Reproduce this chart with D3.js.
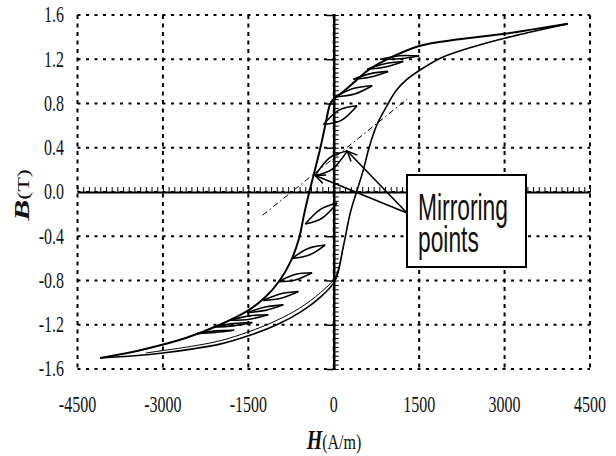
<!DOCTYPE html>
<html>
<head>
<meta charset="utf-8">
<script src="https://cdn.jsdelivr.net/npm/d3@7"></script>
<style>
body{margin:0;background:#fff;}
svg{display:block;}
</style>
</head>
<body>
<svg id="chart"></svg>
<script>
// values
var hTicks = [-4500, -3000, -1500, 0, 1500, 3000, 4500];
var hTickLabels = ["-4500", "-3000", "-1500", "0", "1500", "3000", "4500"];
var bTicks = [-1.6, -1.2, -0.8, -0.4, 0, 0.4, 0.8, 1.2, 1.6];
var bTickLabels = ["-1.6", "-1.2", "-0.8", "-0.4", "0.0", "0.4", "0.8", "1.2", "1.6"];

// major loop, descending branch (H in A/m, B in T)
var descH = [4110, 3500, 3000, 2200, 1500, 900, 600, 375, 150, 0, -60, -150, -235, -330, -430, -520, -610, -750, -950, -1200, -1500, -2000, -2600, -3400, -4100];
var descB = [1.52, 1.47, 1.43, 1.38, 1.32, 1.19, 1.10, 1.00, 0.90, 0.84, 0.80, 0.60, 0.40, 0.20, 0.00, -0.20, -0.42, -0.62, -0.80, -0.95, -1.07, -1.20, -1.32, -1.43, -1.50];
// major loop, ascending branch
var ascH = [-4100, -3500, -3000, -2500, -2000, -1500, -1000, -600, -235, 25, 165, 290, 400, 520, 620, 760, 935, 1100, 1290, 1600, 1920, 2500, 3000, 3500, 4110];
var ascB = [-1.50, -1.48, -1.455, -1.42, -1.375, -1.30, -1.20, -1.09, -0.95, -0.80, -0.50, -0.19, 0.00, 0.20, 0.40, 0.61, 0.78, 0.92, 1.02, 1.13, 1.22, 1.32, 1.39, 1.45, 1.52];
// second rising curve just above the ascending branch
var riseH = [-3300, -2500, -2000, -1500, -1000, -600, -235, 25, 165];
var riseB = [-1.455, -1.395, -1.345, -1.265, -1.16, -1.05, -0.91, -0.77, -0.50];

// minor loops: [start, upper middle, end, lower middle]
var minorLoops = [
  [[815, 1.20], [1158, 1.232], [1500, 1.23], [1158, 1.205]],
  [[585, 1.11], [900, 1.16], [1220, 1.18], [905, 1.13]],
  [[345, 1.02], [650, 1.07], [955, 1.09], [650, 1.04]],
  [[30, 0.86], [340, 0.935], [675, 0.96], [365, 0.885]],
  [[-180, 0.61], [90, 0.74], [410, 0.78], [140, 0.65]],
  [[-325, 0.15], [-70, 0.31], [237, 0.37], [-20, 0.21]],
  [[-500, -0.29], [-240, -0.16], [60, -0.10], [-200, -0.235]],
  [[-730, -0.60], [-450, -0.51], [-150, -0.48], [-430, -0.57]],
  [[-975, -0.81], [-680, -0.745], [-380, -0.73], [-675, -0.795]],
  [[-1235, -0.98], [-930, -0.92], [-620, -0.90], [-925, -0.96]],
  [[-1520, -1.09], [-1205, -1.04], [-885, -1.02], [-1200, -1.07]],
  [[-1810, -1.16], [-1480, -1.12], [-1150, -1.11], [-1480, -1.15]],
  [[-2110, -1.22], [-1770, -1.19], [-1430, -1.18], [-1770, -1.21]],
  [[-2400, -1.28], [-2080, -1.255], [-1750, -1.25], [-2080, -1.27]]
];

// mirroring points and the dash-dot guide through them
var mirrorH = [-325, 237];
var mirrorB = [0.15, 0.37];
var guideH = [-1250, 1290];
var guideB = [-0.21, 0.84];

var draw = function(){
    var width = 616, height = 456;
    var svg = d3.select('#chart')
    .attr('width', width)
    .attr('height', height);

    var x = d3.scaleLinear().domain([-4500, 4500]).range([77.5, 590]);
    var y = d3.scaleLinear().domain([-1.6, 1.6]).range([369, 15]);

    // dotted grid (also forms the frame)
    svg.append('g')
    .selectAll('line')
    .data(hTicks)
    .join('line')
    .attr('x1', d => x(d)).attr('x2', d => x(d))
    .attr('y1', y(1.6)).attr('y2', y(-1.6))
    .attr('stroke', '#000')
    .attr('stroke-width', 2)
    .attr('stroke-dasharray', '4,4.5');

    svg.append('g')
    .selectAll('line')
    .data(bTicks)
    .join('line')
    .attr('x1', x(-4500)).attr('x2', x(4500))
    .attr('y1', d => y(d)).attr('y2', d => y(d))
    .attr('stroke', '#000')
    .attr('stroke-width', 2)
    .attr('stroke-dasharray', '3,5.5');

    // axes through the origin with minor ticks
    var xAxis = svg.append('g')
    .attr('transform', 'translate(0,' + y(0) + ')')
    .call(d3.axisTop(x).tickValues(d3.range(-4500, 4501, 100)).tickSize(5).tickSizeOuter(0).tickFormat(''));
    xAxis.select('.domain').attr('stroke-width', 2);
    xAxis.selectAll('.tick line').attr('stroke-width', 1);

    var yAxis = svg.append('g')
    .attr('transform', 'translate(' + x(0) + ',0)')
    .call(d3.axisRight(y).tickValues(d3.range(-40, 41).map(i => i * 0.04)).tickSize(5).tickSizeOuter(0).tickFormat(''));
    yAxis.select('.domain').attr('stroke-width', 2.5);
    yAxis.selectAll('.tick line').attr('stroke-width', 1);

    var yMajor = svg.append('g')
    .attr('transform', 'translate(' + x(0) + ',0)')
    .call(d3.axisLeft(y).tickValues(bTicks).tickSize(7).tickFormat(''));
    yMajor.select('.domain').remove();
    yMajor.selectAll('.tick line').attr('stroke-width', 1.5);

    // tick labels (condensed serif look, stretched vertically)
    svg.append('g')
    .selectAll('text')
    .data(bTicks)
    .join('text')
    .attr('transform', d => 'translate(64,' + y(d) + ') scale(1,1.42)')
    .attr('dy', '0.33em')
    .attr('text-anchor', 'end')
    .style('font-family', '"Liberation Serif", "Times New Roman", serif')
    .style('font-size', '16px')
    .attr('fill', '#111')
    .text((d, i) => bTickLabels[i]);

    svg.append('g')
    .selectAll('text')
    .data(hTicks)
    .join('text')
    .attr('transform', d => 'translate(' + x(d) + ',405) scale(1,1.42)')
    .attr('dy', '0.33em')
    .attr('text-anchor', 'middle')
    .style('font-family', '"Liberation Serif", "Times New Roman", serif')
    .style('font-size', '16px')
    .attr('fill', '#111')
    .text((d, i) => hTickLabels[i]);

    // axis titles
    var xTitle = svg.append('text')
    .attr('transform', 'translate(334,449) scale(1,1.35)')
    .attr('text-anchor', 'middle')
    .style('font-family', '"Liberation Serif", "Times New Roman", serif')
    .attr('fill', '#111');
    xTitle.append('tspan').style('font-size', '20px').style('font-weight', 'bold').style('font-style', 'italic').text('H');
    xTitle.append('tspan').style('font-size', '16px').text('(A/m)');

    var yTitle = svg.append('text')
    .attr('transform', 'translate(29,195) scale(1,1.5) rotate(-90)')
    .attr('text-anchor', 'middle')
    .style('font-family', '"Liberation Serif", "Times New Roman", serif')
    .attr('fill', '#111');
    yTitle.append('tspan').style('font-size', '21px').style('font-weight', 'bold').style('font-style', 'italic').text('B');
    yTitle.append('tspan').style('font-size', '16px').text('(T)');

    // curves
    var line = d3.line()
    .x(d => x(d[0]))
    .y(d => y(d[1]))
    .curve(d3.curveCatmullRom.alpha(0.5));

    var arc = d3.line()
    .x(d => x(d[0]))
    .y(d => y(d[1]))
    .curve(d3.curveNatural);

    svg.append('path')
    .attr('d', line(d3.zip(guideH, guideB)))
    .attr('fill', 'none')
    .attr('stroke', '#000')
    .attr('stroke-width', 1)
    .attr('stroke-dasharray', '6,3,1.5,3');

    svg.append('path')
    .attr('d', line(d3.zip(descH, descB)))
    .attr('fill', 'none')
    .attr('stroke', '#000')
    .attr('stroke-width', 2);

    svg.append('path')
    .attr('d', line(d3.zip(ascH, ascB)))
    .attr('fill', 'none')
    .attr('stroke', '#000')
    .attr('stroke-width', 1.6);

    svg.append('path')
    .attr('d', line(d3.zip(riseH, riseB)))
    .attr('fill', 'none')
    .attr('stroke', '#000')
    .attr('stroke-width', 1);

    var loopG = svg.append('g')
    .attr('fill', 'none')
    .attr('stroke', '#000')
    .attr('stroke-width', 1.6);
    minorLoops.forEach(function(p){
        loopG.append('path').attr('d', arc([p[0], p[1], p[2]]));
        loopG.append('path').attr('d', arc([p[0], p[3], p[2]]));
    });

    // annotation box with arrows
    svg.append('defs').append('marker')
    .attr('id', 'head')
    .attr('markerUnits', 'userSpaceOnUse')
    .attr('markerWidth', 14).attr('markerHeight', 12)
    .attr('viewBox', '-12 -6 14 12')
    .attr('refX', 0).attr('refY', 0)
    .attr('orient', 'auto')
    .append('path')
    .attr('d', 'M-10,-4.5L0,0L-10,4.5')
    .attr('fill', 'none')
    .attr('stroke', '#000')
    .attr('stroke-width', 1.5);

    var tailX = 407, tailY = 213;
    svg.append('g')
    .selectAll('line')
    .data(d3.zip(mirrorH, mirrorB))
    .join('line')
    .attr('x1', tailX).attr('y1', tailY)
    .attr('x2', d => x(d[0])).attr('y2', d => y(d[1]))
    .attr('stroke', '#000')
    .attr('stroke-width', 1.6)
    .attr('marker-end', 'url(#head)');

    svg.append('rect')
    .attr('x', 407).attr('y', 175)
    .attr('width', 119).attr('height', 92)
    .attr('fill', '#fff')
    .attr('stroke', '#000')
    .attr('stroke-width', 2);

    var note = svg.append('text')
    .attr('transform', 'translate(418,220) scale(1,1.6)')
    .style('font-family', '"Liberation Sans", Arial, sans-serif')
    .style('font-size', '22.8px')
    .attr('fill', '#111');
    note.append('tspan').attr('x', 0).attr('y', 0).text('Mirroring');
    note.append('tspan').attr('x', 0).attr('y', 20).text('points');
};

draw();
</script>
</body>
</html>
